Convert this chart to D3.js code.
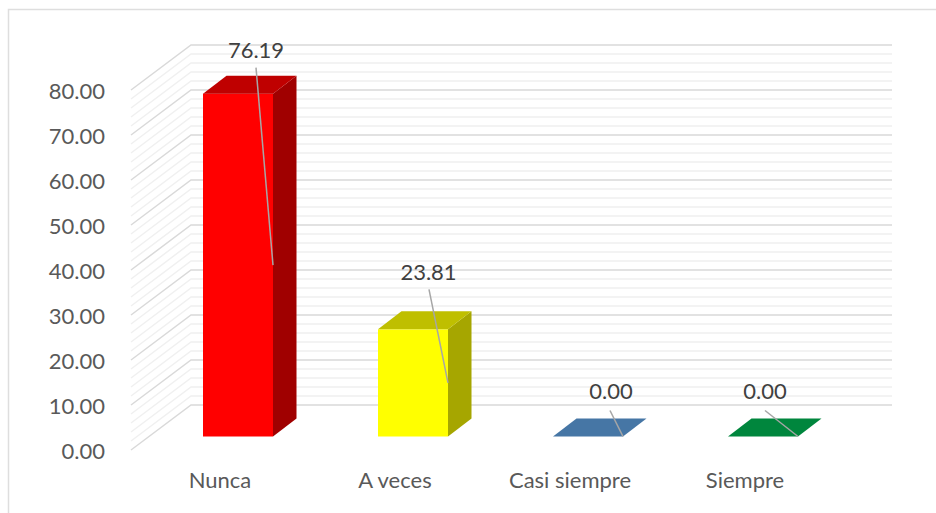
<!DOCTYPE html>
<html>
<head>
<meta charset="utf-8">
<script src="https://cdn.jsdelivr.net/npm/d3@7"></script>
<style>
body { margin: 0; background: #fff; }
svg { display: block; }
text { font-family: Lato, "Open Sans", sans-serif; }
</style>
</head>
<body>
<div id="chart"></div>
<script>
var categories = ["Nunca", "A veces", "Casi siempre", "Siempre"];
var values = [76.19, 23.81, 0.00, 0.00];
var yTicks = [0, 10, 20, 30, 40, 50, 60, 70, 80];

var w = 936;
var h = 513;

// colores de cada barra: frente, tapa, lado
var frontColors = ["#ff0000", "#ffff00", "#4676a5", "#00863d"];
var topColors = ["#bf0000", "#bfbf00", "#4676a5", "#00863d"];
var sideColors = ["#a00000", "#a6a600", "#4676a5", "#00863d"];

// posicion manual de las etiquetas, relativa a la barra
var labelDx = [18, 15.5, 23, 2];
var labelDy = [-43, -56.5, -45, -45];
var leaderDx = [18, 16, 22, 2];
var leaderDy = [-26, -40, -26, -26];

// profundidad del piso 3D
var wallDx = 60;
var wallDy = -45;
var barShiftX = 19.5;
var barShiftY = -13.5;
var barDepthX = 23.5;
var barDepthY = -18;

var xscale = d3.scaleBand()
    .domain(categories)
    .range([131, 831])
    .paddingInner(0.6)
    .paddingOuter(0.3);

var yscale = d3.scaleLinear()
    .domain([0, 80])
    .range([450, 90]);

var svg = d3.select("#chart")
    .append("svg")
    .attr("width", w)
    .attr("height", h);

// marco
svg.append("path")
    .attr("d", "M8.5," + h + "V9.5H" + w)
    .attr("fill", "none")
    .attr("stroke", "#dedede")
    .attr("stroke-width", 1.5);

// rejilla: pared izquierda y pared del fondo
var gridValues = d3.range(0, 82, 2).filter(function(d) {
    return d % 10 != 0;
}).concat(yTicks);

svg.append("g")
    .selectAll("path")
    .data(gridValues)
    .enter()
    .append("path")
    .attr("d", function(d) {
        var y = yscale(d);
        return "M131," + y + "L" + (131 + wallDx) + "," + (y + wallDy) + "H" + (832 + wallDx);
    })
    .attr("fill", "none")
    .attr("stroke", function(d) {
        return d % 10 == 0 ? "#d9d9d9" : "#f0f0f0";
    })
    .attr("stroke-width", 1.5);

// eje y
var yaxis = d3.axisLeft(yscale).tickValues(yTicks).tickSize(0).tickPadding(0)
    .tickFormat(d3.format(".2f"));

svg.append("g")
    .attr("transform", "translate(105,1)")
    .call(yaxis)
    .call(function(g) {
        g.select(".domain").remove();
        g.selectAll("text")
            .attr("font-family", null)
            .attr("font-size", "22px")
            .attr("fill", "#595959");
    });

// barras
function barLeft(i) {
    return xscale(categories[i]) + barShiftX;
}
function barRight(i) {
    return barLeft(i) + xscale.bandwidth();
}
function barBottom() {
    return yscale(0) + barShiftY;
}
function barTop(d) {
    return yscale(d) + barShiftY;
}

var bars = svg.selectAll(".bar")
    .data(values)
    .enter()
    .append("g")
    .attr("class", "bar");

bars.filter(function(d) { return d > 0; })
    .append("rect")
    .attr("x", function(d) { return barLeft(values.indexOf(d)); })
    .attr("y", function(d) { return barTop(d); })
    .attr("width", xscale.bandwidth())
    .attr("height", function(d) { return barBottom() - barTop(d); })
    .attr("fill", function(d) { return frontColors[values.indexOf(d)]; });

bars.filter(function(d) { return d > 0; })
    .append("path")
    .attr("d", function(d) {
        var i = values.indexOf(d);
        var r = barRight(i);
        return "M" + r + "," + barTop(d) +
            "L" + (r + barDepthX) + "," + (barTop(d) + barDepthY) +
            "V" + (barBottom() + barDepthY) +
            "L" + r + "," + barBottom() + "Z";
    })
    .attr("fill", function(d) { return sideColors[values.indexOf(d)]; });

bars.append("path")
    .attr("d", function(d, i) {
        var l = barLeft(i);
        var r = barRight(i);
        var t = barTop(d);
        return "M" + l + "," + t +
            "L" + (l + barDepthX) + "," + (t + barDepthY) +
            "H" + (r + barDepthX) +
            "L" + r + "," + t + "Z";
    })
    .attr("fill", function(d, i) { return topColors[i]; });

// lineas guia
svg.append("g")
    .selectAll("line")
    .data(values)
    .enter()
    .append("line")
    .attr("x1", function(d, i) { return barLeft(i) + xscale.bandwidth() / 2 + leaderDx[i]; })
    .attr("y1", function(d, i) { return barTop(d) + leaderDy[i]; })
    .attr("x2", function(d, i) { return barRight(i); })
    .attr("y2", function(d) { return (barTop(d) + barBottom()) / 2; })
    .attr("stroke", "#a6a6a6")
    .attr("stroke-width", 1.5);

// etiquetas de datos
svg.append("g")
    .selectAll("text")
    .data(values)
    .enter()
    .append("text")
    .text(function(d) { return d3.format(".2f")(d); })
    .attr("x", function(d, i) { return barLeft(i) + xscale.bandwidth() / 2 + labelDx[i]; })
    .attr("y", function(d, i) { return barTop(d) + labelDy[i]; })
    .attr("dy", "0.32em")
    .attr("text-anchor", "middle")
    .attr("font-size", "22px")
    .attr("fill", "#404040");

// categorias
svg.append("g")
    .selectAll("text")
    .data(categories)
    .enter()
    .append("text")
    .text(function(d) { return d; })
    .attr("x", function(d) { return xscale(d) + xscale.bandwidth() / 2 + 1.5; })
    .attr("y", 481)
    .attr("dy", "0.32em")
    .attr("text-anchor", "middle")
    .attr("font-size", "22px")
    .attr("fill", "#595959");
</script>
</body>
</html>
